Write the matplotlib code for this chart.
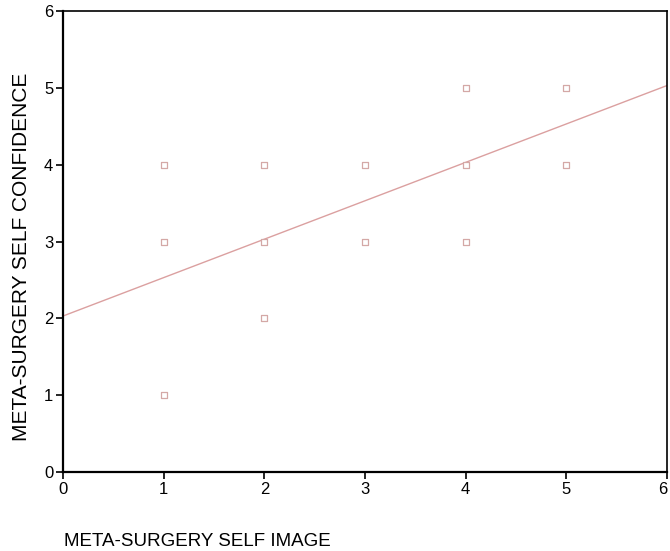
import matplotlib

matplotlib.use("Agg")
import matplotlib.pyplot as plt
import numpy as np

plt.rcParams["font.family"] = ["Liberation Sans", "DejaVu Sans"]

# observed scores (self image vs self confidence)
self_image = [1, 1, 1, 2, 2, 2, 3, 3, 4, 4, 4, 5, 5]
self_confidence = [4, 3, 1, 4, 3, 2, 4, 3, 5, 4, 3, 5, 4]

# fitted regression line
fit_intercept = 2.03
fit_slope = 0.5

ticks = [0, 1, 2, 3, 4, 5, 6]

fig = plt.figure(figsize=(6.70, 5.51), dpi=100)
ax = fig.add_axes([63 / 670, 1 - 472 / 551, 604 / 670, 461 / 551])

xs = np.array([0, 6])
ax.plot(xs, fit_intercept + fit_slope * xs, color="#dba0a0", lw=1.0, zorder=2)
ax.scatter(self_image, self_confidence, marker="s", s=22, facecolors="white",
           edgecolors="#d4a8a6", linewidths=0.9, zorder=3)

ax.set_xlim(0, 6)
ax.set_ylim(0, 6)
ax.set_xticks(ticks)
ax.set_yticks(ticks)
ax.tick_params(direction="out", length=5, width=1.2, labelsize=12, pad=2)
# keep the last x label inside the canvas
ax.get_xticklabels()[-1].set_horizontalalignment("right")
ax.get_xticklabels()[-1].set_x(6.0)

for side in ("left", "bottom"):
    ax.spines[side].set_linewidth(1.6)
for side in ("top", "right"):
    ax.spines[side].set_linewidth(1.2)

ax.set_ylabel("META-SURGERY SELF CONFIDENCE", fontsize=15)
ax.yaxis.set_label_coords(-0.053, 0.466)
fig.text(64 / 670, 1 - 541 / 551, "META-SURGERY SELF IMAGE", fontsize=13.5,
         ha="left", va="center")

fig.savefig("out.png", dpi=100)
